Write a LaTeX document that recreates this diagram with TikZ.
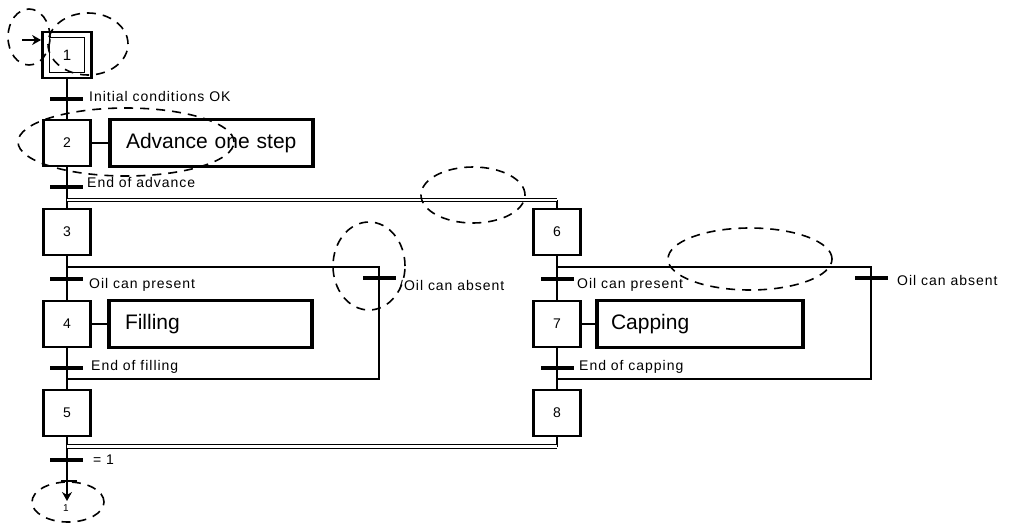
\documentclass[tikz,border=0pt]{standalone}
\usepackage{fontspec}
\setmainfont{Liberation Sans}
\newfontfamily\lblfont[LetterSpace=7]{Liberation Sans}
\usepackage{tikz}
\usetikzlibrary{arrows.meta,positioning}

\begin{document}
\begin{tikzpicture}[x=1pt, y=-1pt,
        stepbox/.style={draw, line width=2.8pt, minimum width=47pt, minimum height=46pt,
                    inner sep=0pt, font=\fontsize{14}{16}\selectfont},
        innerbox/.style={draw, line width=1.1pt, minimum width=35pt, minimum height=35pt,
                    inner sep=0pt, font=\fontsize{15}{16}\selectfont},
        act/.style={draw, line width=3.6pt, minimum height=47pt, inner sep=0pt,
                    text width=#1, align=left, font=\fontsize{21}{24}\selectfont},
        trans/.style={fill=black, minimum width=33pt, minimum height=3.6pt, inner sep=0pt},
        tick/.style={fill=black, minimum width=16pt, minimum height=1.4pt, inner sep=0pt},
        lbl/.style={anchor=west, inner sep=0pt, font=\lblfont\fontsize{14}{16}\selectfont},
        line/.style={line width=1.3pt},
        dbl/.style={double, double distance=2.4pt, line width=1pt},
        arr/.style={line width=1.3pt, -{Stealth[length=9pt, width=10pt]}},
        errmark/.style={dash pattern=on 9pt off 7pt, line width=1.6pt}
    ]
        \useasboundingbox (0,0) rectangle (1009,525);

        % ── Left column (x = 67) ─────────────────────────────────────────
        \node[stepbox, minimum width=49pt] (s1) at (67, 55)  {};
        \node[innerbox] (s1in) at (67, 55) {1};
        \node[stepbox] (s2) at (67, 143) {2};
        \node[stepbox] (s3) at (67, 232) {3};
        \node[stepbox] (s4) at (67, 324) {4};
        \node[stepbox] (s5) at (67, 413) {5};

        % ── Right column (x = 557) ───────────────────────────────────────
        \node[stepbox] (s6) at (557, 232) {6};
        \node[stepbox] (s7) at (557, 324) {7};
        \node[stepbox] (s8) at (557, 413) {8};

        % ── Actions ──────────────────────────────────────────────────────
        \node[act=175pt, minimum width=203pt] (a2) at (211.5, 143)   {\hspace*{2pt}Advance one step};
        \node[act=175pt, minimum width=203pt] (a4) at (210.5, 324)   {\hspace*{2pt}Filling};
        \node[act=178pt, minimum width=206pt] (a7) at (700, 324)     {Capping};

        % ── Junction points ──────────────────────────────────────────────
        \coordinate (entry) at (22, 40);
        \coordinate (divL)  at (67, 200);
        \coordinate (divR)  at (557, 200);
        \coordinate (brL)   at (67, 267);
        \coordinate (brLr)  at (379, 267);
        \coordinate (rtLr)  at (379, 379);
        \coordinate (rtL)   at (67, 379);
        \coordinate (brR)   at (557, 267);
        \coordinate (brRr)  at (871, 267);
        \coordinate (rtRr)  at (871, 379);
        \coordinate (rtR)   at (557, 379);
        \coordinate (conL)  at (67, 446.5);
        \coordinate (conR)  at (557, 446.5);
        \coordinate (tail)  at (67, 501);

        % ── Links ────────────────────────────────────────────────────────
        \draw[arr]  (entry) -- (entry -| s1.west);
        \draw[line] (s1) -- (s2);
        \draw[line] (s2) -- (s3);
        \draw[line] (s3) -- (s4);
        \draw[line] (s4) -- (s5);
        \draw[arr]  (s5) -- (tail);
        \draw[line] (divR) -- (s6);
        \draw[line] (s6) -- (s7);
        \draw[line] (s7) -- (s8);
        \draw[line] (s8) -- (conR);
        \draw[line] (s2) -- (a2);
        \draw[line] (s4) -- (a4);
        \draw[line] (s7) -- (a7);

        % selection branches with their return lines
        \draw[line] (brL) -- (brLr) -- (rtLr) -- (rtL);
        \draw[line] (brR) -- (brRr) -- (rtRr) -- (rtR);

        % simultaneous split and join
        \draw[dbl] (divL) -- (divR);
        \draw[dbl] (conL) -- (conR);

        % ── Transitions ──────────────────────────────────────────────────
        \node[trans] (t1)  at (66, 99)  {};
        \node[trans] (t2)  at (66, 187) {};
        \node[trans] (t3)  at (66, 279) {};
        \node[trans] (t3b) at (379, 278) {};
        \node[trans] (t4)  at (66, 368) {};
        \node[trans] (t6)  at (557, 279) {};
        \node[trans] (t6b) at (871, 278) {};
        \node[trans] (t7)  at (557, 368) {};
        \node[trans] (t5)  at (66, 460) {};
        \node[tick]  (tk)  at (69, 481) {};

        \node[lbl] (l1)  at (89, 96)   {Initial conditions OK};
        \node[lbl] (l2)  at (87, 182)  {End of advance};
        \node[lbl] (l3)  at (89, 285)  {Oil can present};
        \node[lbl] (l3b) at (399, 285) {/Oil can absent};
        \node[lbl] (l4)  at (91, 367)  {End of filling};
        \node[lbl] (l6)  at (577, 285) {Oil can present};
        \node[lbl] (l6b) at (897, 280) {Oil can absent};
        \node[lbl] (l7)  at (579, 367) {End of capping};
        \node[lbl] (l5)  at (93, 460)  {= 1};
        \node[font=\fontsize{10}{10}\selectfont, inner sep=0pt] (jump) at (66, 508) {1};

        % ── Dashed marks ─────────────────────────────────────────────────
        \draw[errmark] (29, 37)    ellipse [x radius=21pt, y radius=28pt];
        \draw[errmark] (88, 44)    ellipse [x radius=40pt, y radius=31pt];
        \draw[errmark] (126, 142)  ellipse [x radius=108pt, y radius=34pt];
        \draw[errmark] (473, 195)  ellipse [x radius=52pt, y radius=28pt];
        \draw[errmark] (369, 266)  ellipse [x radius=36pt, y radius=44pt];
        \draw[errmark] (750, 259)  ellipse [x radius=82pt, y radius=31pt];
        \draw[errmark] (68, 502)   ellipse [x radius=36pt, y radius=20pt];

    \end{tikzpicture}
\end{document}
